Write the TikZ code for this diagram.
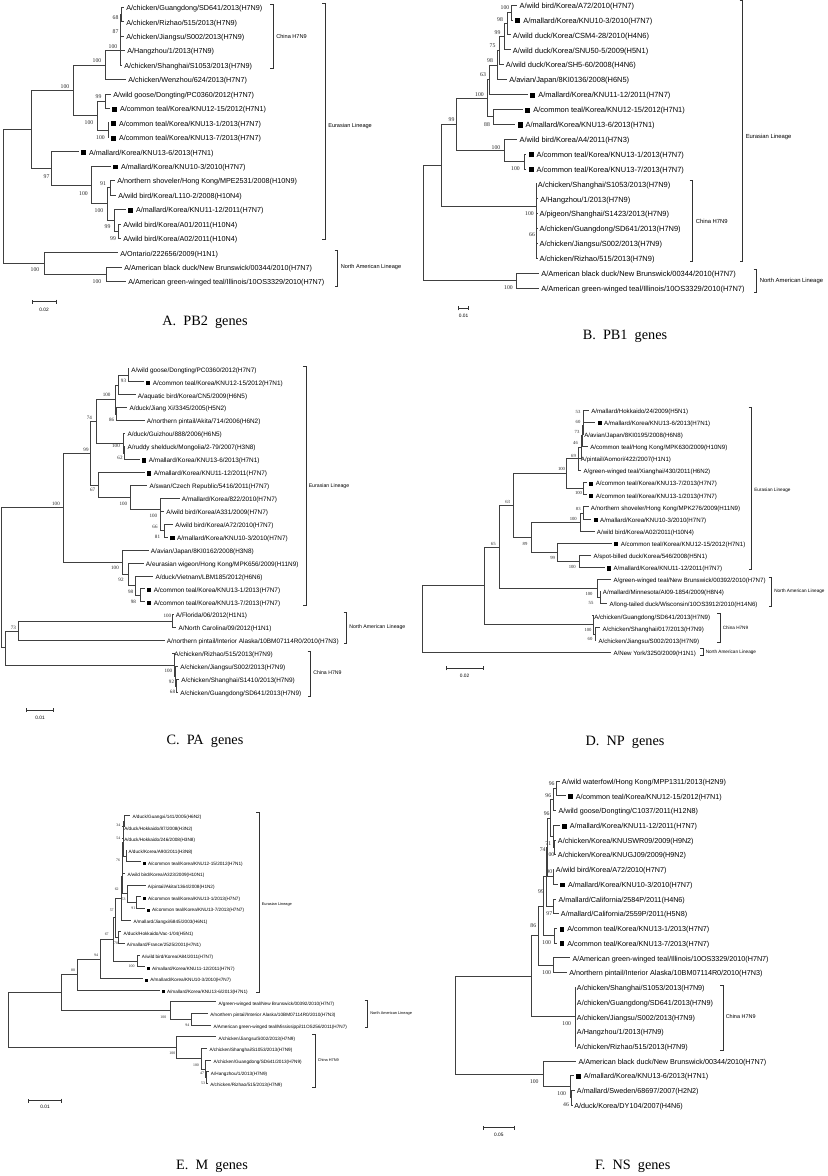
\documentclass[tikz,border=0pt]{standalone}
\usepackage{fontspec}
\setmainfont{Liberation Serif}
\setsansfont{Liberation Sans}
\usetikzlibrary{arrows.meta}
\newcommand{\fsz}[1]{\fontsize{#1}{#1}\selectfont}
\newcommand{\ksq}{\rule{0.68em}{0.68em}\hspace{0.4em}}
\tikzset{
  br/.style   ={draw=black!75, line width=0.5pt},
  brk/.style  ={draw=black!80, line width=0.5pt},
  leaf/.style ={anchor=west, inner xsep=1.5pt, inner ysep=0pt,
                text height=0.7em, text depth=0.2em},
  bs/.style   ={inner sep=0pt, text=black!85},
  grp/.style  ={anchor=west, inner sep=0pt},
  scl/.style  ={{Bar[width=3pt]}-{Bar[width=3pt]}, draw=black!80, line width=0.5pt},
  scllbl/.style={inner sep=0pt, font=\sffamily\fsz{3.6}},
  captxt/.style={inner sep=0pt, font=\rmfamily\fsz{10.7}}
}
\begin{document}
\begin{tikzpicture}[x=0.75pt, y=-0.75pt]
\useasboundingbox (0,0) rectangle (827,1176);
\fill[white] (0,0) rectangle (827,1176);

%  A. PB2 
\begin{scope}[shift={(0pt,-5.475pt)}, y=-10.83pt,
  lf/.style={leaf, font=\sffamily\fsz{5.4}},
  bv/.style={bs, font=\rmfamily\fsz{4.3}},
  gl/.style={grp, font=\sffamily\fsz{4.2}}]
\node[lf] (a0) at (124,0) {A/chicken/Guangdong/SD641/2013(H7N9)};
\node[lf] (a1) at (124,1) {A/chicken/Rizhao/515/2013(H7N9)};
\node[lf] (a2) at (124,2) {A/chicken/Jiangsu/S002/2013(H7N9)};
\node[lf] (a3) at (125,3) {A/Hangzhou/1/2013(H7N9)};
\node[lf] (a4) at (122,4) {A/chicken/Shanghai/S1053/2013(H7N9)};
\node[lf] (a5) at (126,5) {A/chicken/Wenzhou/624/2013(H7N7)};
\node[lf] (a6) at (111,6) {A/wild goose/Dongting/PC0360/2012(H7N7)};
\node[lf] (a7) at (110,7) {\ksq A/common teal/Korea/KNU12-15/2012(H7N1)};
\node[lf] (a8) at (109,8) {\ksq A/common teal/Korea/KNU13-1/2013(H7N7)};
\node[lf] (a9) at (109,9) {\ksq A/common teal/Korea/KNU13-7/2013(H7N7)};
\node[lf] (a10) at (79,10) {\ksq A/mallard/Korea/KNU13-6/2013(H7N1)};
\node[lf] (a11) at (111,11) {\ksq A/mallard/Korea/KNU10-3/2010(H7N7)};
\node[lf] (a12) at (115,12) {A/northern shoveler/Hong Kong/MPE2531/2008(H10N9)};
\node[lf] (a13) at (116,13) {A/wild bird/Korea/L110-2/2008(H10N4)};
\node[lf] (a14) at (126,14) {\ksq A/mallard/Korea/KNU11-12/2011(H7N7)};
\node[lf] (a15) at (121,15) {A/wild bird/Korea/A01/2011(H10N4)};
\node[lf] (a16) at (121,16) {A/wild bird/Korea/A02/2011(H10N4)};
\node[lf] (a17) at (118,17) {A/Ontario/222656/2009(H1N1)};
\node[lf] (a18) at (122,18) {A/American black duck/New Brunswick/00344/2010(H7N7)};
\node[lf] (a19) at (126,19) {A/American green-winged teal/Illinois/10OS3329/2010(H7N7)};
% branches
\coordinate (ai1) at (121.5,0.5);  \node[bv] (ab1) at (115.5,0.7) {68};
\coordinate (ai2) at (120.8,1.25); \node[bv] (ab2) at (115.5,1.7) {87};
\coordinate (ai3) at (120,3);      \node[bv] (ab3) at (113,2.72) {100};
\coordinate (ai4) at (105,4);      \node[bv] (ab4) at (97,3.7) {100};
\coordinate (ai5) at (105.7,6.5);  \node[bv] (ab5) at (98.5,6.2) {99};
\coordinate (ai6) at (108.3,8.5);  \node[bv] (ab6) at (100.5,9.0) {100};
\coordinate (ai7) at (97,7.5);     \node[bv] (ab7) at (89,8.0) {100};
\coordinate (ai8) at (73,5.75);    \node[bv] (ab8) at (65,5.5) {100};
\coordinate (ai9) at (118.3,15.5); \node[bv] (ab9) at (113,16.0) {99};
\coordinate (ai10) at (114.3,14.75); \node[bv] (ab10) at (107.5,15.2) {99};
\coordinate (ai11) at (110,12.5);  \node[bv] (ab11) at (103,12.2) {91};
\coordinate (ai12) at (107.7,13.6); \node[bv] (ab12) at (99,14.1) {100};
\coordinate (ai13) at (91.7,12.3); \node[bv] (ab13) at (83.5,12.9) {100};
\coordinate (ai14) at (51.7,11.15); \node[bv] (ab14) at (46.5,11.75) {97};
\coordinate (ai15) at (31,8.45);
\coordinate (ai16) at (106,18.5);  \node[bv] (ab16) at (97,19.0) {100};
\coordinate (ai17) at (44.3,17.75); \node[bv] (ab17) at (35,18.2) {100};
\coordinate (ai18) at (3.3,13.1);
\draw[br] (ai1) |- (a0) (ai1) |- (a1);
\draw[br] (ai2) |- (ai1) (ai2) |- (a2);
\draw[br] (ai3) |- (ai2) (ai3) |- (a3) (ai3) |- (a4);
\draw[br] (ai4) |- (ai3) (ai4) |- (a5);
\draw[br] (ai5) |- (a6) (ai5) |- (a7);
\draw[br] (ai6) |- (a8) (ai6) |- (a9);
\draw[br] (ai7) |- (ai5) (ai7) |- (ai6);
\draw[br] (ai8) |- (ai4) (ai8) |- (ai7);
\draw[br] (ai9) |- (a15) (ai9) |- (a16);
\draw[br] (ai10) |- (a14) (ai10) |- (ai9);
\draw[br] (ai11) |- (a12) (ai11) |- (a13);
\draw[br] (ai12) |- (ai11) (ai12) |- (ai10);
\draw[br] (ai13) |- (a11) (ai13) |- (ai12);
\draw[br] (ai14) |- (a10) (ai14) |- (ai13);
\draw[br] (ai15) |- (ai8) (ai15) |- (ai14);
\draw[br] (ai16) |- (a18) (ai16) |- (a19);
\draw[br] (ai17) |- (a17) (ai17) |- (ai16);
\draw[br] (ai18) |- (ai15) (ai18) |- (ai17);
% lineages
\draw[brk] (270,-0.2) -| (273,4.2) -- (270,4.2);
\node[gl] (ag1) at (276,2) {China H7N9};
\draw[brk] (322,-0.25) -| (325,16.1) -- (322,16.1);
\node[gl] (ag2) at (328,8.2) {Eurasian Lineage};
\draw[brk] (334.7,16.8) -| (337.7,19.3) -- (334.7,19.3);
\node[gl] (ag3) at (340.5,18) {North American Lineage};
\end{scope}
\coordinate (asl) at (31.7,301.7); \coordinate (asr) at (56.7,301.7);
\draw[scl] (asl) -- (asr);
\node[scllbl] (ast) at (44,309.5) {0.02};
\node[captxt] (capa) at (205,322) {A.\ \ PB2\ \ genes};

%  B. PB1 
\begin{scope}[shift={(0pt,-3.75pt)}, y=-11.175pt,
  lf/.style={leaf, font=\sffamily\fsz{5.6}},
  bv/.style={bs, font=\rmfamily\fsz{4.3}},
  gl/.style={grp, font=\sffamily\fsz{4.4}}]
\node[lf] (b0) at (517.3,0) {A/wild bird/Korea/A72/2010(H7N7)};
\node[lf] (b1) at (513,1) {\ksq A/mallard/Korea/KNU10-3/2010(H7N7)};
\node[lf] (b2) at (510.7,2) {A/wild duck/Korea/CSM4-28/2010(H4N6)};
\node[lf] (b3) at (510.7,3) {A/wild duck/Korea/SNU50-5/2009(H5N1)};
\node[lf] (b4) at (503.7,4) {A/wild duck/Korea/SH5-60/2008(H4N6)};
\node[lf] (b5) at (507,5) {A/avian/Japan/8KI0136/2008(H6N5)};
\node[lf] (b6) at (528,6) {\ksq A/mallard/Korea/KNU11-12/2011(H7N7)};
\node[lf] (b7) at (523,7) {\ksq A/common teal/Korea/KNU12-15/2012(H7N1)};
\node[lf] (b8) at (515.3,8) {\ksq A/mallard/Korea/KNU13-6/2013(H7N1)};
\node[lf] (b9) at (517.3,9) {A/wild bird/Korea/A4/2011(H7N3)};
\node[lf] (b10) at (526.3,10) {\ksq A/common teal/Korea/KNU13-1/2013(H7N7)};
\node[lf] (b11) at (526.3,11) {\ksq A/common teal/Korea/KNU13-7/2013(H7N7)};
\node[lf] (b12) at (535.7,12) {A/chicken/Shanghai/S1053/2013(H7N9)};
\node[lf] (b13) at (538,13) {A/Hangzhou/1/2013(H7N9)};
\node[lf] (b14) at (537.3,14) {A/pigeon/Shanghai/S1423/2013(H7N9)};
\node[lf] (b15) at (537.3,15) {A/chicken/Guangdong/SD641/2013(H7N9)};
\node[lf] (b16) at (537.3,16) {A/chicken/Jiangsu/S002/2013(H7N9)};
\node[lf] (b17) at (537.3,17) {A/chicken/Rizhao/515/2013(H7N9)};
\node[lf] (b18) at (539,18) {A/American black duck/New Brunswick/00344/2010(H7N7)};
\node[lf] (b19) at (539,19) {A/American green-winged teal/Illinois/10OS3329/2010(H7N7)};
% branches
\coordinate (bi1) at (511.7,0.5);  \node[bv] (bb1) at (505,0.15) {100};
\coordinate (bi2) at (507.7,1.25); \node[bv] (bb2) at (500,0.96) {98};
\coordinate (bi3) at (504.3,2.13); \node[bv] (bb3) at (497.5,1.86) {99};
\coordinate (bi4) at (499.5,3.06); \node[bv] (bb4) at (492.5,2.75) {75};
\coordinate (bi5) at (497.3,4.03); \node[bv] (bb5) at (490,3.7) {98};
\coordinate (bi6) at (489,5.02);   \node[bv] (bb6) at (483,4.7) {63};
\coordinate (bi7) at (493.3,7.5);  \node[bv] (bb7) at (487,8.05) {88};
\coordinate (bi8) at (487,6.26);   \node[bv] (bb8) at (479.5,6.0) {100};
\coordinate (bi9) at (524.3,10.5); \node[bv] (bb9) at (515.5,11.0) {100};
\coordinate (bi10) at (504,9.75);  \node[bv] (bb10) at (496,9.55) {100};
\coordinate (bi11) at (456.7,8.0); \node[bv] (bb11) at (451.5,7.7) {99};
\coordinate (bi12) at (536.7,13.5); \node[bv] (bb12) at (529.5,14.0) {100};
\node[bv] (bb12b) at (532,15.4) {66};
\coordinate (bi13) at (441,10.75);
\coordinate (bi14) at (516,18.5);  \node[bv] (bb14) at (508.5,19.0) {100};
\coordinate (bi15) at (423.3,14.6);
\draw[br] (bi1) |- (b0) (bi1) |- (b1);
\draw[br] (bi2) |- (bi1) (bi2) |- (b2);
\draw[br] (bi3) |- (bi2) (bi3) |- (b3);
\draw[br] (bi4) |- (bi3) (bi4) |- (b4);
\draw[br] (bi5) |- (bi4) (bi5) |- (b5);
\draw[br] (bi6) |- (bi5) (bi6) |- (b6);
\draw[br] (bi7) |- (b7) (bi7) |- (b8);
\draw[br] (bi8) |- (bi6) (bi8) |- (bi7);
\draw[br] (bi9) |- (b10) (bi9) |- (b11);
\draw[br] (bi10) |- (b9) (bi10) |- (bi9);
\draw[br] (bi11) |- (bi8) (bi11) |- (bi10);
\draw[br] (bi12) |- (b12) (bi12) |- (b13) (bi12) |- (b14)
          (bi12) |- (b15) (bi12) |- (b16) (bi12) |- (b17);
\draw[br] (bi13) |- (bi11) (bi13) |- (bi12);
\draw[br] (bi14) |- (b18) (bi14) |- (b19);
\draw[br] (bi15) |- (bi13) (bi15) |- (bi14);
% lineages
\draw[brk] (689.7,11.8) -| (692.7,17.2) -- (689.7,17.2);
\node[gl] (bg1) at (695.5,14.5) {China H7N9};
\draw[brk] (739.7,-0.3) -| (742.7,17.2) -- (739.7,17.2);
\node[gl] (bg2) at (745.5,8.84) {Eurasian Lineage};
\draw[brk] (753.7,17.75) -| (756.7,19.3) -- (753.7,19.3);
\node[gl] (bg3) at (759.5,18.5) {North American Lineage};
\end{scope}
\coordinate (bsl) at (458.3,308.3); \coordinate (bsr) at (469,308.3);
\draw[scl] (bsl) -- (bsr);
\node[scllbl] (bst) at (463.5,316) {0.01};
\node[captxt] (capb) at (625,336) {B.\ \ PB1\ \ genes};

%  C. PA 
\begin{scope}[shift={(0pt,-276.6pt)}, y=-9.705pt,
  lf/.style={leaf, font=\sffamily\fsz{4.8}},
  bv/.style={bs, font=\rmfamily\fsz{3.8}},
  gl/.style={grp, font=\sffamily\fsz{3.9}}]
\node[lf] (c0) at (129,0) {A/wild goose/Dongting/PC0360/2012(H7N7)};
\node[lf] (c1) at (143.7,1) {\ksq A/common teal/Korea/KNU12-15/2012(H7N1)};
\node[lf] (c2) at (135.7,2) {A/aquatic bird/Korea/CN5/2009(H6N5)};
\node[lf] (c3) at (127.3,3) {A/duck/Jiang Xi/3345/2005(H5N2)};
\node[lf] (c4) at (144.7,4) {A/northern pintail/Akita/714/2006(H6N2)};
\node[lf] (c5) at (125.3,5) {A/duck/Guizhou/888/2006(H6N5)};
\node[lf] (c6) at (125.3,6) {A/ruddy shelduck/Mongolia/2-79/2007(H3N8)};
\node[lf] (c7) at (139.7,7) {\ksq A/mallard/Korea/KNU13-6/2013(H7N1)};
\node[lf] (c8) at (144.7,8) {\ksq A/mallard/Korea/KNU11-12/2011(H7N7)};
\node[lf] (c9) at (147.3,9) {A/swan/Czech Republic/5416/2011(H7N7)};
\node[lf] (c10) at (179.7,10) {A/mallard/Korea/822/2010(H7N7)};
\node[lf] (c11) at (164,11) {A/wild bird/Korea/A331/2009(H7N7)};
\node[lf] (c12) at (173,12) {A/wild bird/Korea/A72/2010(H7N7)};
\node[lf] (c13) at (168,13) {\ksq A/mallard/Korea/KNU10-3/2010(H7N7)};
\node[lf] (c14) at (148.7,14) {A/avian/Japan/8KI0162/2008(H3N8)};
\node[lf] (c15) at (143.7,15) {A/eurasian wigeon/Hong Kong/MPK656/2009(H11N9)};
\node[lf] (c16) at (153.3,16) {A/duck/Vietnam/LBM185/2012(H6N6)};
\node[lf] (c17) at (144.7,17) {\ksq A/common teal/Korea/KNU13-1/2013(H7N7)};
\node[lf] (c18) at (144.7,18) {\ksq A/common teal/Korea/KNU13-7/2013(H7N7)};
\node[lf] (c19) at (173.7,19) {A/Florida/06/2012(H1N1)};
\node[lf] (c20) at (176.3,20) {A/North Carolina/09/2012(H1N1)};
\node[lf] (c21) at (164.7,21) {A/northern pintail/Interior Alaska/10BM07114R0/2010(H7N3)};
\node[lf] (c22) at (172,22) {A/chicken/Rizhao/515/2013(H7N9)};
\node[lf] (c23) at (178,23) {A/chicken/Jiangsu/S002/2013(H7N9)};
\node[lf] (c24) at (179,24) {A/chicken/Shanghai/S1410/2013(H7N9)};
\node[lf] (c25) at (178,25) {A/chicken/Guangdong/SD641/2013(H7N9)};
% branches
\coordinate (ci1) at (128.3,0.5);  \node[bv] (cb1) at (123.5,0.9) {93};
\coordinate (ci2) at (118.3,1.25);
\coordinate (ci3) at (116.7,3.5);  \node[bv] (cb3) at (111.7,3.96) {86};
\coordinate (ci4) at (115,2.38);   \node[bv] (cb4) at (106.7,2.0) {100};
\coordinate (ci5) at (124.3,6.5);  \node[bv] (cb5) at (120,6.9) {62};
\coordinate (ci6) at (123.3,5.75); \node[bv] (cb6) at (116,5.92) {100};
\coordinate (ci7) at (96.7,4.07);  \node[bv] (cb7) at (89.3,3.78) {74};
\coordinate (ci8) at (164,12.5);   \node[bv] (cb8) at (157.5,13.0) {81};
\coordinate (ci9) at (160.7,11.75); \node[bv] (cb9) at (155,12.2) {66};
\coordinate (ci10) at (160,10.88); \node[bv] (cb10) at (153.3,11.4) {100};
\coordinate (ci11) at (130,9.94);  \node[bv] (cb11) at (123.3,10.4) {100};
\coordinate (ci12) at (98.3,8.97); \node[bv] (cb12) at (92.7,9.37) {67};
\coordinate (ci13) at (90.7,6.52); \node[bv] (cb13) at (86,6.25) {99};
\coordinate (ci14) at (140,17.5);  \node[bv] (cb14) at (133.3,18.0) {98};
\coordinate (ci15) at (135,16.75); \node[bv] (cb15) at (130.7,17.2) {98};
\coordinate (ci16) at (128.3,15.88); \node[bv] (cb16) at (121,16.3) {92};
\coordinate (ci17) at (122.7,14.94); \node[bv] (cb17) at (115,15.4) {100};
\coordinate (ci18) at (63.3,10.73); \node[bv] (cb18) at (56,10.4) {100};
\coordinate (ci19) at (172.3,19.5); \node[bv] (cb19) at (167.3,19.1) {100};
\coordinate (ci20) at (18.3,20.25); \node[bv] (cb20) at (13.3,20.0) {73};
\coordinate (ci21) at (176.5,24.5); \node[bv] (cb21) at (172.5,25.0) {68};
\coordinate (ci22) at (175.5,23.75); \node[bv] (cb22) at (171.5,24.2) {92};
\coordinate (ci23) at (174,22.88); \node[bv] (cb23) at (168.3,23.35) {100};
\coordinate (ci24) at (5,21.56);
\coordinate (ci25) at (1.7,16.15);
\draw[br] (ci1) |- (c0) (ci1) |- (c1);
\draw[br] (ci2) |- (ci1) (ci2) |- (c2);
\draw[br] (ci3) |- (c3) (ci3) |- (c4);
\draw[br] (ci4) |- (ci2) (ci4) |- (ci3);
\draw[br] (ci5) |- (c6) (ci5) |- (c7);
\draw[br] (ci6) |- (c5) (ci6) |- (ci5);
\draw[br] (ci7) |- (ci4) (ci7) |- (ci6);
\draw[br] (ci8) |- (c12) (ci8) |- (c13);
\draw[br] (ci9) |- (c11) (ci9) |- (ci8);
\draw[br] (ci10) |- (c10) (ci10) |- (ci9);
\draw[br] (ci11) |- (c9) (ci11) |- (ci10);
\draw[br] (ci12) |- (c8) (ci12) |- (ci11);
\draw[br] (ci13) |- (ci7) (ci13) |- (ci12);
\draw[br] (ci14) |- (c17) (ci14) |- (c18);
\draw[br] (ci15) |- (c16) (ci15) |- (ci14);
\draw[br] (ci16) |- (c15) (ci16) |- (ci15);
\draw[br] (ci17) |- (c14) (ci17) |- (ci16);
\draw[br] (ci18) |- (ci13) (ci18) |- (ci17);
\draw[br] (ci19) |- (c19) (ci19) |- (c20);
\draw[br] (ci20) |- (ci19) (ci20) |- (c21);
\draw[br] (ci21) |- (c24) (ci21) |- (c25);
\draw[br] (ci22) |- (c23) (ci22) |- (ci21);
\draw[br] (ci23) |- (c22) (ci23) |- (ci22);
\draw[br] (ci24) |- (ci20) (ci24) |- (ci23);
\draw[br] (ci25) |- (ci18) (ci25) |- (ci24);
% lineages
\draw[brk] (303,-0.2) -| (306,18.3) -- (303,18.3);
\node[gl] (cg1) at (308.5,9.06) {Eurasian Lineage};
\draw[brk] (343.7,18.85) -| (346.7,21.2) -- (343.7,21.2);
\node[gl] (cg2) at (349,20) {North American Lineage};
\draw[brk] (307.7,21.8) -| (310.7,25.3) -- (307.7,25.3);
\node[gl] (cg3) at (313,23.5) {China H7N9};
\end{scope}
\coordinate (csl) at (26,710); \coordinate (csr) at (53.3,710);
\draw[scl] (csl) -- (csr);
\node[scllbl] (cst) at (40,717.5) {0.01};
\node[captxt] (capc) at (205,741) {C.\ \ PA\ \ genes};

%  D. NP 
\begin{scope}[shift={(0pt,-307.5pt)}, y=-9.075pt,
  lf/.style={leaf, font=\sffamily\fsz{4.6}},
  bv/.style={bs, font=\rmfamily\fsz{3.5}},
  gl/.style={grp, font=\sffamily\fsz{3.5}}]
\node[lf] (d0) at (589,0) {A/mallard/Hokkaido/24/2009(H5N1)};
\node[lf] (d1) at (595.3,1) {\ksq A/mallard/Korea/KNU13-6/2013(H7N1)};
\node[lf] (d2) at (582,2) {A/avian/Japan/8KI0195/2008(H6N8)};
\node[lf] (d3) at (588,3) {A/common teal/Hong Kong/MPK630/2009(H10N9)};
\node[lf] (d4) at (578.7,4) {A/pintail/Aomori/422/2007(H1N1)};
\node[lf] (d5) at (581.3,5) {A/green-winged teal/Xianghai/430/2011(H6N2)};
\node[lf] (d6) at (587,6) {\ksq A/common teal/Korea/KNU13-7/2013(H7N7)};
\node[lf] (d7) at (587,7) {\ksq A/common teal/Korea/KNU13-1/2013(H7N7)};
\node[lf] (d8) at (588.7,8) {A/northern shoveler/Hong Kong/MPK276/2009(H11N9)};
\node[lf] (d9) at (591.3,9) {\ksq A/mallard/Korea/KNU10-3/2010(H7N7)};
\node[lf] (d10) at (594.7,10) {A/wild bird/Korea/A02/2011(H10N4)};
\node[lf] (d11) at (612,11) {\ksq A/common teal/Korea/KNU12-15/2012(H7N1)};
\node[lf] (d12) at (591.3,12) {A/spot-billed duck/Korea/546/2008(H5N1)};
\node[lf] (d13) at (604.7,13) {\ksq A/mallard/Korea/KNU11-12/2011(H7N7)};
\node[lf] (d14) at (611.3,14) {A/green-winged teal/New Brunswick/00392/2010(H7N7)};
\node[lf] (d15) at (600.7,15) {A/mallard/Minnesota/AI09-1854/2009(H8N4)};
\node[lf] (d16) at (607.3,16) {A/long-tailed duck/Wisconsin/10OS3912/2010(H14N6)};
\node[lf] (d17) at (592,17) {A/chicken/Guangdong/SD641/2013(H7N9)};
\node[lf] (d18) at (600.3,18) {A/chicken/Shanghai/017/2013(H7N9)};
\node[lf] (d19) at (596.3,19) {A/chicken/Jiangsu/S002/2013(H7N9)};
\node[lf] (d20) at (611.3,20) {A/New York/3250/2009(H1N1)};
% branches
\coordinate (di1) at (583.5,0.5);  \node[bv] (db1) at (578,0.19) {53};
\coordinate (di2) at (583,1.25);   \node[bv] (db2) at (578,0.97) {60};
\coordinate (di3) at (582.5,2.13); \node[bv] (db3) at (577,1.84) {73};
\coordinate (di4) at (581,3.06);   \node[bv] (db4) at (575.5,2.75) {46};
\coordinate (di5) at (578.3,4.03); \node[bv] (db5) at (573.5,3.78) {69};
\coordinate (di6) at (583.3,6.5);  \node[bv] (db6) at (578.5,6.88) {100};
\coordinate (di7) at (566.7,5.27); \node[bv] (db7) at (561.5,4.85) {100};
\coordinate (di8) at (583.3,8.5);  \node[bv] (db8) at (578.3,8.18) {83};
\coordinate (di9) at (580,9.25);   \node[bv] (db9) at (573.3,9.03) {100};
\coordinate (di10) at (579.3,12.5); \node[bv] (db10) at (572.3,13.0) {100};
\coordinate (di11) at (557.7,11.75); \node[bv] (db11) at (552.7,12.26) {99};
\coordinate (di12) at (531.7,10.5); \node[bv] (db12) at (525,11.07) {89};
\coordinate (di13) at (513.3,7.88); \node[bv] (db13) at (507.7,7.58) {63};
\coordinate (di14) at (600,15.5);  \node[bv] (db14) at (591,15.98) {55};
\coordinate (di15) at (597.7,14.75); \node[bv] (db15) at (589,15.23) {100};
\coordinate (di16) at (499.3,11.31); \node[bv] (db16) at (493.3,11.07) {65};
\coordinate (di17) at (595,18.5);  \node[bv] (db17) at (590,18.95) {60};
\coordinate (di18) at (593.3,17.75); \node[bv] (db18) at (588,18.18) {100};
\coordinate (di19) at (484,14.53);
\coordinate (di20) at (422.7,17.27);
\draw[br] (di1) |- (d0) (di1) |- (d1);
\draw[br] (di2) |- (di1) (di2) |- (d2);
\draw[br] (di3) |- (di2) (di3) |- (d3);
\draw[br] (di4) |- (di3) (di4) |- (d4);
\draw[br] (di5) |- (di4) (di5) |- (d5);
\draw[br] (di6) |- (d6) (di6) |- (d7);
\draw[br] (di7) |- (di5) (di7) |- (di6);
\draw[br] (di8) |- (d8) (di8) |- (d9);
\draw[br] (di9) |- (di8) (di9) |- (d10);
\draw[br] (di10) |- (d12) (di10) |- (d13);
\draw[br] (di11) |- (d11) (di11) |- (di10);
\draw[br] (di12) |- (di9) (di12) |- (di11);
\draw[br] (di13) |- (di7) (di13) |- (di12);
\draw[br] (di14) |- (d15) (di14) |- (d16);
\draw[br] (di15) |- (d14) (di15) |- (di14);
\draw[br] (di16) |- (di13) (di16) |- (di15);
\draw[br] (di17) |- (d18) (di17) |- (d19);
\draw[br] (di18) |- (d17) (di18) |- (di17);
\draw[br] (di19) |- (di16) (di19) |- (di18);
\draw[br] (di20) |- (di19) (di20) |- (d20);
% lineages
\draw[brk] (748.7,-0.2) -| (751.7,13.2) -- (748.7,13.2);
\node[gl] (dg1) at (754,6.6) {Eurasian Lineage};
\draw[brk] (768.7,13.8) -| (771.7,16.2) -- (768.7,16.2);
\node[gl] (dg2) at (774,15) {North American Lineage};
\draw[brk] (717,16.8) -| (720,19.2) -- (717,19.2);
\node[gl] (dg3) at (722.5,18) {China H7N9};
\draw[brk] (700.3,19.7) -| (703.3,20.3) -- (700.3,20.3);
\node[gl] (dg4) at (705.5,20) {North American Lineage};
\end{scope}
\coordinate (dsl) at (445.7,668.3); \coordinate (dsr) at (484,668.3);
\draw[scl] (dsl) -- (dsr);
\node[scllbl] (dst) at (464.5,675.5) {0.02};
\node[captxt] (capd) at (625,742) {D.\ \ NP\ \ genes};

%  E. M 
\begin{scope}[shift={(0pt,-611.25pt)}, y=-8.7525pt,
  lf/.style={leaf, font=\sffamily\fsz{3.5}},
  bv/.style={bs, font=\rmfamily\fsz{2.9}},
  gl/.style={grp, font=\sffamily\fsz{2.9}}]
\node[lf] (e0) at (130.3,0) {A/duck/Guangxi/141/2005(H6N2)};
\node[lf] (e1) at (122,1) {A/duck/Hokkaido/87/2008(H3N2)};
\node[lf] (e2) at (122,2) {A/duck/Hokkaido/246/2008(H3N8)};
\node[lf] (e3) at (126.3,3) {A/duck/Korea/A90/2011(H3N8)};
\node[lf] (e4) at (140.7,4) {\ksq A/common teal/Korea/KNU12-15/2012(H7N1)};
\node[lf] (e5) at (125.3,5) {A/wild bird/Korea/A323/2009(H10N1)};
\node[lf] (e6) at (145.7,6) {A/pintail/Akita/1364/2008(H1N2)};
\node[lf] (e7) at (140.7,7) {\ksq A/common teal/Korea/KNU13-1/2013(H7N7)};
\node[lf] (e8) at (144.7,8) {\ksq A/common teal/Korea/KNU13-7/2013(H7N7)};
\node[lf] (e9) at (131.3,9) {A/mallard/Jiangxi/6845/2003(H6N1)};
\node[lf] (e10) at (121.3,10) {A/duck/Hokkaido/Vac-1/04(H5N1)};
\node[lf] (e11) at (124.7,11) {A/mallard/France/2525/2001(H7N1)};
\node[lf] (e12) at (139.7,12) {A/wild bird/Korea/A84/2011(H7N7)};
\node[lf] (e13) at (144.7,13) {\ksq A/mallard/Korea/KNU11-12/2011(H7N7)};
\node[lf] (e14) at (143,14) {\ksq A/mallard/Korea/KNU10-3/2010(H7N7)};
\node[lf] (e15) at (159.7,15) {\ksq A/mallard/Korea/KNU13-6/2013(H7N1)};
\node[lf] (e16) at (216.3,16) {A/green-winged teal/New Brunswick/00392/2010(H7N7)};
\node[lf] (e17) at (208,17) {A/northern pintail/Interior Alaska/10BM07114R0/2010(H7N3)};
\node[lf] (e18) at (211.3,18) {A/American green-winged teal/Mississippi/11OS256/2011(H7N7)};
\node[lf] (e19) at (216.3,19) {A/chicken/Jiangsu/S002/2013(H7N9)};
\node[lf] (e20) at (207.3,20) {A/chicken/Shanghai/S1053/2013(H7N9)};
\node[lf] (e21) at (211.3,21) {A/chicken/Guangdong/SD641/2013(H7N9)};
\node[lf] (e22) at (208.7,22) {A/Hangzhou/1/2013(H7N9)};
\node[lf] (e23) at (208,23) {A/chicken/Rizhao/515/2013(H7N9)};
% branches
\coordinate (ei1) at (124,0.5);    \node[bv] (eb1) at (118.3,0.86) {34};
\coordinate (ei2) at (123.5,1.25); \node[bv] (eb2) at (118.3,2.0) {54};
\coordinate (ei3) at (126,3.5);
\coordinate (ei4) at (123,2.38);
\coordinate (ei5) at (122.7,3.69); \node[bv] (eb5) at (118,3.9) {76};
\coordinate (ei6) at (136.7,7.5);  \node[bv] (eb6) at (133.3,7.95) {91};
\coordinate (ei7) at (127.7,6.75); \node[bv] (eb7) at (123.5,7.25) {53};
\coordinate (ei8) at (122,5.22);   \node[bv] (eb8) at (116.7,6.34) {62};
\coordinate (ei9) at (121.7,7.11);
\coordinate (ei10) at (118.3,10.5); \node[bv] (eb10) at (116,11.0) {70};
\coordinate (ei11) at (115,8.8);   \node[bv] (eb11) at (111.7,8.14) {57};
\coordinate (ei12) at (137.7,12.5); \node[bv] (eb12) at (131.7,13.0) {100};
\coordinate (ei13) at (113.3,10.65); \node[bv] (eb13) at (106.7,10.2) {67};
\coordinate (ei14) at (100,12.33); \node[bv] (eb14) at (96,12.0) {94};
\coordinate (ei15) at (77.3,13.66); \node[bv] (eb15) at (73,13.3) {80};
\coordinate (ei16) at (191.7,17.5); \node[bv] (eb16) at (187.3,18.0) {94};
\coordinate (ei17) at (170,16.75); \node[bv] (eb17) at (163.3,17.3) {100};
\coordinate (ei18) at (61.7,15.2);
\coordinate (ei19) at (206.5,22.5); \node[bv] (eb19) at (203,23.0) {53};
\coordinate (ei20) at (205,21.75); \node[bv] (eb20) at (202,22.1) {47};
\coordinate (ei21) at (201,20.88); \node[bv] (eb21) at (196,21.4) {100};
\coordinate (ei22) at (176.7,19.94); \node[bv] (eb22) at (172.3,20.4) {100};
\coordinate (ei23) at (8.3,17.57);
\draw[br] (ei1) |- (e0) (ei1) |- (e1);
\draw[br] (ei2) |- (ei1) (ei2) |- (e2);
\draw[br] (ei3) |- (e3) (ei3) |- (e4);
\draw[br] (ei4) |- (ei2) (ei4) |- (ei3);
\draw[br] (ei5) |- (ei4) (ei5) |- (e5);
\draw[br] (ei6) |- (e7) (ei6) |- (e8);
\draw[br] (ei7) |- (e6) (ei7) |- (ei6);
\draw[br] (ei8) |- (ei5) (ei8) |- (ei7);
\draw[br] (ei9) |- (ei8) (ei9) |- (e9);
\draw[br] (ei10) |- (e10) (ei10) |- (e11);
\draw[br] (ei11) |- (ei9) (ei11) |- (ei10);
\draw[br] (ei12) |- (e12) (ei12) |- (e13);
\draw[br] (ei13) |- (ei11) (ei13) |- (ei12);
\draw[br] (ei14) |- (ei13) (ei14) |- (e14);
\draw[br] (ei15) |- (ei14) (ei15) |- (e15);
\draw[br] (ei16) |- (e17) (ei16) |- (e18);
\draw[br] (ei17) |- (e16) (ei17) |- (ei16);
\draw[br] (ei18) |- (ei15) (ei18) |- (ei17);
\draw[br] (ei19) |- (e22) (ei19) |- (e23);
\draw[br] (ei20) |- (e21) (ei20) |- (ei19);
\draw[br] (ei21) |- (e20) (ei21) |- (ei20);
\draw[br] (ei22) |- (e19) (ei22) |- (ei21);
\draw[br] (ei23) |- (ei18) (ei23) |- (ei22);
% lineages
\draw[brk] (256.3,-0.2) -| (259.3,15.2) -- (256.3,15.2);
\node[gl] (eg1) at (261.5,7.65) {Eurasian Lineage};
\draw[brk] (364.7,15.85) -| (367.7,18.2) -- (364.7,18.2);
\node[gl] (eg2) at (370,17) {North American Lineage};
\draw[brk] (312,18.8) -| (315,23.3) -- (312,23.3);
\node[gl] (eg3) at (317.5,21) {China H7N9};
\end{scope}
\coordinate (esl) at (28.3,1100.7); \coordinate (esr) at (61.7,1100.7);
\draw[scl] (esl) -- (esr);
\node[scllbl] (est) at (45,1106.5) {0.01};
\node[captxt] (cape) at (212,1166) {E.\ \ M\ \ genes};

%  F. NS 
\begin{scope}[shift={(0pt,-585.75pt)}, y=-11.0475pt,
  lf/.style={leaf, font=\sffamily\fsz{5.4}},
  bv/.style={bs, font=\rmfamily\fsz{4.3}},
  gl/.style={grp, font=\sffamily\fsz{4.1}}]
\node[lf] (f0) at (559.7,0) {A/wild waterfowl/Hong Kong/MPP1311/2013(H2N9)};
\node[lf] (f1) at (565.7,1) {\ksq A/common teal/Korea/KNU12-15/2012(H7N1)};
\node[lf] (f2) at (556.3,2) {A/wild goose/Dongting/C1037/2011(H12N8)};
\node[lf] (f3) at (559.7,3) {\ksq A/mallard/Korea/KNU11-12/2011(H7N7)};
\node[lf] (f4) at (555.7,4) {A/chicken/Korea/KNUSWR09/2009(H9N2)};
\node[lf] (f5) at (555.7,5) {A/chicken/Korea/KNUGJ09/2009(H9N2)};
\node[lf] (f6) at (553.7,6) {A/wild bird/Korea/A72/2010(H7N7)};
\node[lf] (f7) at (558,7) {\ksq A/mallard/Korea/KNU10-3/2010(H7N7)};
\node[lf] (f8) at (556.3,8) {A/mallard/California/2584P/2011(H4N6)};
\node[lf] (f9) at (558.7,9) {A/mallard/California/2559P/2011(H5N8)};
\node[lf] (f10) at (557.3,10) {\ksq A/common teal/Korea/KNU13-1/2013(H7N7)};
\node[lf] (f11) at (557.3,11) {\ksq A/common teal/Korea/KNU13-7/2013(H7N7)};
\node[lf] (f12) at (570.3,12) {A/American green-winged teal/Illinois/10OS3329/2010(H7N7)};
\node[lf] (f13) at (567,13) {A/northern pintail/Interior Alaska/10BM07114R0/2010(H7N3)};
\node[lf] (f14) at (574.7,14) {A/chicken/Shanghai/S1053/2013(H7N9)};
\node[lf] (f15) at (574.7,15) {A/chicken/Guangdong/SD641/2013(H7N9)};
\node[lf] (f16) at (574.7,16) {A/chicken/Jiangsu/S002/2013(H7N9)};
\node[lf] (f17) at (574.7,17) {A/Hangzhou/1/2013(H7N9)};
\node[lf] (f18) at (574.7,18) {A/chicken/Rizhao/515/2013(H7N9)};
\node[lf] (f19) at (576.3,19) {A/American black duck/New Brunswick/00344/2010(H7N7)};
\node[lf] (f20) at (573.7,20) {\ksq A/mallard/Korea/KNU13-6/2013(H7N1)};
\node[lf] (f21) at (574.7,21) {A/mallard/Sweden/68697/2007(H2N2)};
\node[lf] (f22) at (572,22) {A/duck/Korea/DY104/2007(H4N6)};
% branches
\coordinate (fi1) at (556.7,0.5);  \node[bv] (fb1) at (551.7,0.2) {96};
\coordinate (fi2) at (553.3,1.25); \node[bv] (fb2) at (548.3,1.0) {96};
\coordinate (fi3) at (554.7,4.5);  \node[bv] (fb3) at (550,4.98) {100};
\coordinate (fi4) at (553.3,3.75); \node[bv] (fb4) at (548.3,4.23) {71};
\coordinate (fi5) at (550,2.5);    \node[bv] (fb5) at (546.7,2.24) {96};
\coordinate (fi6) at (553.3,6.5);  \node[bv] (fb6) at (549.3,6.16) {90};
\coordinate (fi7) at (547.7,4.5);  \node[bv] (fb7) at (542.7,4.68) {74};
\coordinate (fi8) at (553.3,8.5);  \node[bv] (fb8) at (549.3,9.03) {97};
\coordinate (fi9) at (546,6.5);    \node[bv] (fb9) at (541,7.5) {99};
\coordinate (fi10) at (554,10.5);  \node[bv] (fb10) at (546.7,10.98) {100};
\coordinate (fi11) at (543,8.5);
\coordinate (fi12) at (553.3,12.5); \node[bv] (fb12) at (546.7,13.0) {100};
\coordinate (fi13) at (538.3,10.5); \node[bv] (fb13) at (533.3,9.84) {86};
\coordinate (fi14) at (575,16);    \node[bv] (fb14) at (566.7,16.5) {100};
\coordinate (fi15) at (531.7,13.25);
\coordinate (fi16) at (571.7,21.5); \node[bv] (fb16) at (566,22) {46};
\coordinate (fi17) at (570.7,20.75); \node[bv] (fb17) at (561.7,21.25) {100};
\coordinate (fi18) at (543.3,19.88); \node[bv] (fb18) at (534.3,20.4) {100};
\coordinate (fi19) at (455,16.56);
\draw[br] (fi1) |- (f0) (fi1) |- (f1);
\draw[br] (fi2) |- (fi1) (fi2) |- (f2);
\draw[br] (fi3) |- (f4) (fi3) |- (f5);
\draw[br] (fi4) |- (f3) (fi4) |- (fi3);
\draw[br] (fi5) |- (fi2) (fi5) |- (fi4);
\draw[br] (fi6) |- (f6) (fi6) |- (f7);
\draw[br] (fi7) |- (fi5) (fi7) |- (fi6);
\draw[br] (fi8) |- (f8) (fi8) |- (f9);
\draw[br] (fi9) |- (fi7) (fi9) |- (fi8);
\draw[br] (fi10) |- (f10) (fi10) |- (f11);
\draw[br] (fi11) |- (fi9) (fi11) |- (fi10);
\draw[br] (fi12) |- (f12) (fi12) |- (f13);
\draw[br] (fi13) |- (fi11) (fi13) |- (fi12);
\draw[br] (fi14) |- (f14) (fi14) |- (f15) (fi14) |- (f16)
          (fi14) |- (f17) (fi14) |- (f18);
\draw[br] (fi15) |- (fi13) (fi15) |- (fi14);
\draw[br] (fi16) |- (f21) (fi16) |- (f22);
\draw[br] (fi17) |- (f20) (fi17) |- (fi16);
\draw[br] (fi18) |- (f19) (fi18) |- (fi17);
\draw[br] (fi19) |- (fi15) (fi19) |- (fi18);
% lineage
\draw[brk] (720.3,13.85) -| (723.3,18.3) -- (720.3,18.3);
\node[gl] (fg1) at (725.5,16) {China H7N9};
\end{scope}
\coordinate (fsl) at (483.3,1127.7); \coordinate (fsr) at (514.3,1127.7);
\draw[scl] (fsl) -- (fsr);
\node[scllbl] (fst) at (498.8,1134.5) {0.05};
\node[captxt] (capf) at (632.7,1166.7) {F.\ \ NS\ \ genes};
\end{tikzpicture}
\end{document}
